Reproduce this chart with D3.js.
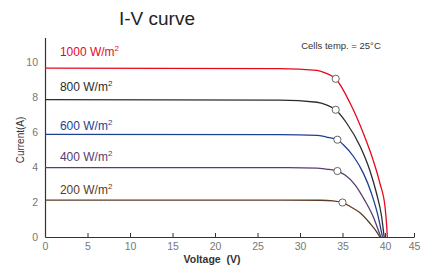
<!DOCTYPE html>
<html>
<head>
<meta charset="utf-8">
<script src="https://cdn.jsdelivr.net/npm/d3@7"></script>
<style>
  body { margin: 0; background: #fff; }
  svg { display: block; font-family: "Liberation Sans", Arial, sans-serif; }
</style>
</head>
<body>
<svg id="chart" width="430" height="265"></svg>
<script>
// irradiance levels (series)
const irradiance = ['1000', '800', '600', '400', '200'];
const seriesColors = ['#e8081e', '#2c2c2c', '#1e3f96', '#5a3c6e', '#5b3b27'];

// I-V points: [voltage V, current A]
const curve1000 = [[0, 9.65], [27.6, 9.62], [32, 9.52], [33.1, 9.35], [34.2, 9.04], [35.9, 7.64], [37.45, 5.93], [38.6, 4.4], [39.4, 3.07], [40.0, 1.73], [40.3, 0.59], [40.4, 0]];
const curve800 = [[0, 7.85], [27.6, 7.82], [32, 7.7], [33.1, 7.55], [34.2, 7.27], [35.5, 6.5], [37.1, 5.16], [38.2, 3.83], [39.0, 2.5], [39.6, 1.17], [39.9, 0]];
const curve600 = [[0, 5.86], [27.6, 5.85], [32, 5.81], [33.1, 5.71], [34.4, 5.56], [35.1, 5.27], [36.3, 4.6], [37.45, 3.65], [38.4, 2.5], [39.2, 1.17], [39.7, 0]];
const curve400 = [[0, 3.96], [27.6, 3.96], [32, 3.94], [33.1, 3.88], [34.4, 3.77], [35.3, 3.54], [36.5, 2.97], [37.6, 2.11], [38.6, 1.17], [39.5, 0]];
const curve200 = [[0, 2.11], [27.6, 2.11], [32.4, 2.1], [33.9, 2.06], [35.0, 1.97], [35.9, 1.74], [37.1, 1.37], [38.2, 0.8], [39.0, 0.31], [39.4, 0]];
const curves = [curve1000, curve800, curve600, curve400, curve200];

// maximum power points (circles)
const mppV = [34.2, 34.2, 34.4, 34.4, 35.0];
const mppI = [9.04, 7.27, 5.56, 3.77, 1.97];

// label baselines in current units
const labelI = [10.34, 8.34, 6.11, 4.34, 2.43];

const xTicks = [0, 5, 10, 15, 20, 25, 30, 35, 40, 45];
const yTicks = [0, 2, 4, 6, 8, 10];

const svg = d3.select('#chart');

// the last x tick sits closer than the others in the original, so the scale is polylinear
const xScale = d3.scaleLinear().domain([0, 40, 45]).range([45, 385, 414]);
const yScale = d3.scaleLinear().domain([0, 11.4]).range([237, 37.5]);

// x axis, ticks pointing up
const xAxis = d3.axisBottom(xScale).tickValues(xTicks).tickSizeInner(-4).tickSizeOuter(0).tickPadding(6);
const gx = svg.append('g').attr('transform', 'translate(0,237)').call(xAxis);
gx.select('.domain').attr('stroke', '#333').attr('stroke-width', 1.2);
gx.selectAll('.tick line').attr('stroke', '#333');
gx.selectAll('.tick text').attr('fill', '#777').attr('font-size', 10.5).attr('font-family', 'Liberation Sans, Arial, sans-serif');

// y axis, no tick marks
const yAxis = d3.axisLeft(yScale).tickValues(yTicks).tickSize(0).tickPadding(7);
const gy = svg.append('g').attr('transform', 'translate(45,0)').call(yAxis);
gy.select('.domain').attr('stroke', '#333').attr('stroke-width', 1.2);
gy.selectAll('.tick text').attr('fill', '#777').attr('font-size', 10.5).attr('font-family', 'Liberation Sans, Arial, sans-serif');

// curves
const line = d3.line()
    .x(d => xScale(d[0]))
    .y(d => yScale(d[1]))
    .curve(d3.curveMonotoneX);

svg.append('g').selectAll('path')
    .data(curves)
    .join('path')
    .attr('d', line)
    .attr('fill', 'none')
    .attr('stroke', (d, i) => seriesColors[i])
    .attr('stroke-width', 1.3);

// maximum power point markers
svg.append('g').selectAll('circle')
    .data(mppV)
    .join('circle')
    .attr('cx', d => xScale(d))
    .attr('cy', (d, i) => yScale(mppI[i]))
    .attr('r', 3.6)
    .attr('fill', '#fff')
    .attr('stroke', '#666')
    .attr('stroke-width', 1);

// irradiance labels
const labels = svg.append('g').selectAll('text')
    .data(irradiance)
    .join('text')
    .attr('x', xScale(1.75))
    .attr('y', (d, i) => yScale(labelI[i]))
    .attr('font-size', 12)
    .attr('fill', (d, i) => seriesColors[i]);
labels.append('tspan').text(d => d + ' W/m');
labels.append('tspan').attr('font-size', 8).attr('dy', -5).text('2');

// titles
svg.append('text')
    .attr('x', 157).attr('y', 25)
    .attr('text-anchor', 'middle')
    .attr('font-size', 19)
    .attr('fill', '#222')
    .text('I-V curve');

svg.append('text')
    .attr('x', 341).attr('y', 49)
    .attr('text-anchor', 'middle')
    .attr('font-size', 9.5)
    .attr('fill', '#333')
    .text('Cells temp. = 25°C');

svg.append('text')
    .attr('transform', 'translate(24,140) rotate(-90)')
    .attr('text-anchor', 'middle')
    .attr('font-size', 10)
    .attr('fill', '#333')
    .text('Current(A)');

svg.append('text')
    .attr('x', 212).attr('y', 263)
    .attr('text-anchor', 'middle')
    .attr('font-size', 10.5)
    .attr('font-weight', 'bold')
    .attr('fill', '#333')
    .style('white-space', 'pre')
    .text('Voltage  (V)');
</script>
</body>
</html>
